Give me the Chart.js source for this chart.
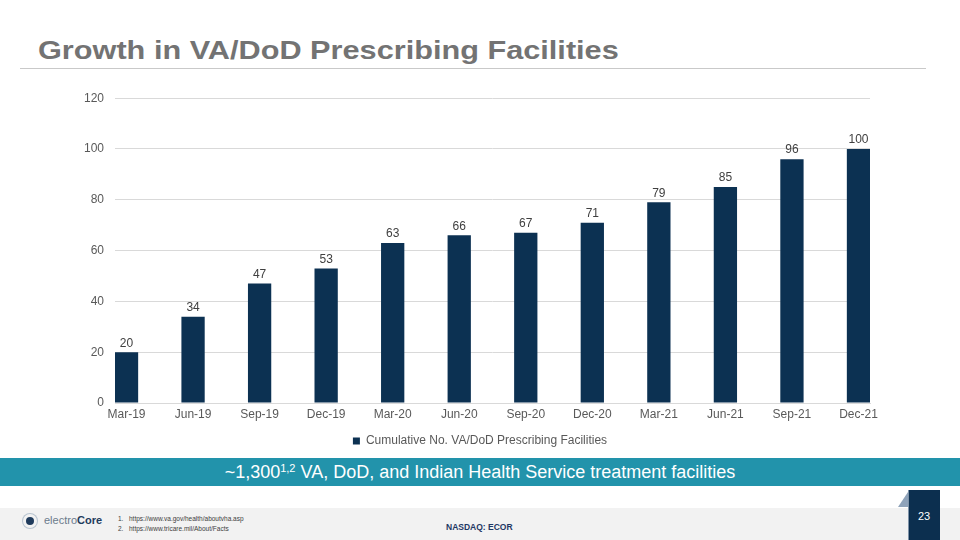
<!DOCTYPE html>
<html>
<head>
<meta charset="utf-8">
<script src="https://cdn.jsdelivr.net/npm/chart.js@4.4.1/dist/chart.umd.min.js"></script>
<style>
  html, body { margin: 0; padding: 0; }
  body { width: 960px; height: 540px; position: relative; overflow: hidden; background: #fff; font-family: "Liberation Sans", Arial, sans-serif; }
  #title { position: absolute; left: 38px; top: 35px; font-size: 26px; font-weight: bold; color: #737373; transform: scaleX(1.18); transform-origin: left top; white-space: nowrap; }
  #rule { position: absolute; left: 20px; top: 68px; width: 906px; height: 1px; background: #c9c9c9; }
  #chartBox { position: absolute; left: 0; top: 80px; width: 960px; height: 380px; }
  #banner { position: absolute; left: 0; top: 458px; width: 960px; height: 28px; background: #2293ab; color: #fff; font-size: 18px; text-align: center; line-height: 29px; }
  #banner sup { font-size: 11px; vertical-align: 6px; line-height: 0; }
  #footer { position: absolute; left: 0; top: 508px; width: 960px; height: 32px; background: #f2f2f2; }
  #logo { position: absolute; left: 20px; top: 514px; font-size: 11px; color: #6b7b8c; }
  #logo b { color: #1f3b5c; }
  #logo .mark { display: inline-block; width: 8px; height: 8px; border-radius: 50%; background: #1f3b5c; box-shadow: 0 0 0 3px #f2f2f2, 0 0 0 4px #b8c4d0; margin: 0 10px 0 6px; vertical-align: -1px; }
  #notes { position: absolute; left: 118px; top: 514px; font-size: 6.5px; color: #404040; line-height: 10px; }
  #notes span { display: inline-block; width: 11px; }
  #nasdaq { position: absolute; left: 446px; top: 522px; font-size: 8.5px; font-weight: bold; color: #1f3864; }
  #pageTri { position: absolute; left: 898px; top: 492px; width: 0; height: 0; border-left: 10px solid transparent; border-bottom: 15px solid #8fa3ba; }
  #page { position: absolute; left: 908px; top: 490px; width: 32px; height: 50px; background: #0c2f4f; color: #fff; font-size: 11px; text-align: center; line-height: 52px; box-shadow: inset 1px 0 0 #7f93a8; }
</style>
</head>
<body>
<div id="title">Growth in VA/DoD Prescribing Facilities</div>
<div id="rule"></div>
<div id="chartBox"><canvas id="chart"></canvas></div>
<div id="banner">~1,300<sup>1,2</sup> VA, DoD, and Indian Health Service treatment facilities</div>
<div id="footer"></div>
<div id="logo"><span class="mark"></span>electro<b>Core</b></div>
<div id="notes">
  <div><span>1.</span>https://www.va.gov/health/aboutvha.asp</div>
  <div><span>2.</span>https://www.tricare.mil/About/Facts</div>
</div>
<div id="nasdaq">NASDAQ: ECOR</div>
<div id="pageTri"></div>
<div id="page">23</div>

<script>
const quarters = ['Mar-19', 'Jun-19', 'Sep-19', 'Dec-19', 'Mar-20', 'Jun-20',
                  'Sep-20', 'Dec-20', 'Mar-21', 'Jun-21', 'Sep-21', 'Dec-21'];
const facilities = [20, 34, 47, 53, 63, 66, 67, 71, 79, 85, 96, 100];
const seriesName = 'Cumulative No. VA/DoD Prescribing Facilities';
const yTicks = [0, 20, 40, 60, 80, 100, 120];

const barColor = '#0c3152';
const textColor = '#595959';
const fontFamily = '"Liberation Sans", Arial, sans-serif';

// labels on top of the bars
const valueLabels = {
    id: 'valueLabels',
    afterDatasetsDraw(chart) {
        const ctx = chart.ctx;
        const meta = chart.getDatasetMeta(0);
        ctx.save();
        ctx.font = '12px ' + fontFamily;
        ctx.fillStyle = '#404040';
        ctx.textAlign = 'center';
        ctx.textBaseline = 'bottom';
        meta.data.forEach((bar, i) => {
            ctx.fillText(String(facilities[i]), bar.x, bar.y - 3);
        });
        ctx.restore();
    }
};

// the legend sits centred on the whole slide, not on the padded chart
const centreLegend = {
    id: 'centreLegend',
    afterLayout(chart) {
        const lg = chart.legend;
        if (!lg) return;
        const shift = (chart.width - (lg.left + lg.right)) / 2;
        lg.left += shift;
        lg.right += shift;
    }
};

new Chart(document.getElementById('chart'), {
    type: 'bar',
    data: {
        datasets: [{
            label: seriesName,
            data: facilities.map((v, i) => ({ x: i, y: v })),
            backgroundColor: barColor,
            barPercentage: 0.35,
            categoryPercentage: 1,
        }]
    },
    options: {
        responsive: true,
        maintainAspectRatio: false,
        animation: false,
        layout: { padding: { left: 0, right: 90, top: 17, bottom: 3 } },
        plugins: {
            tooltip: { enabled: false },
            legend: {
                position: 'bottom',
                labels: {
                    boxWidth: 7,
                    boxHeight: 7,
                    padding: 10,
                    color: textColor,
                    font: { size: 12, family: fontFamily },
                }
            }
        },
        scales: {
            x: {
                type: 'linear',
                offset: false,
                min: -0.173,
                max: 11.173,
                grid: { display: false, drawTicks: false },
                border: { color: '#d9d9d9' },
                afterFit(scale) { scale.height = 22; },
                ticks: {
                    stepSize: 1,
                    includeBounds: false,
                    autoSkip: false,
                    maxRotation: 0,
                    padding: 4,
                    color: textColor,
                    font: { size: 12, family: fontFamily },
                    callback: (v) => Number.isInteger(v) ? quarters[v] : '',
                }
            },
            y: {
                min: yTicks[0],
                max: yTicks[yTicks.length - 1],
                grid: { color: '#d9d9d9', drawTicks: false },
                border: { display: false },
                afterFit(scale) { scale.width = 115; },
                ticks: {
                    stepSize: 20,
                    padding: 11,
                    color: textColor,
                    font: { size: 12, family: fontFamily },
                }
            }
        }
    },
    plugins: [valueLabels, centreLegend],
});
</script>
</body>
</html>
